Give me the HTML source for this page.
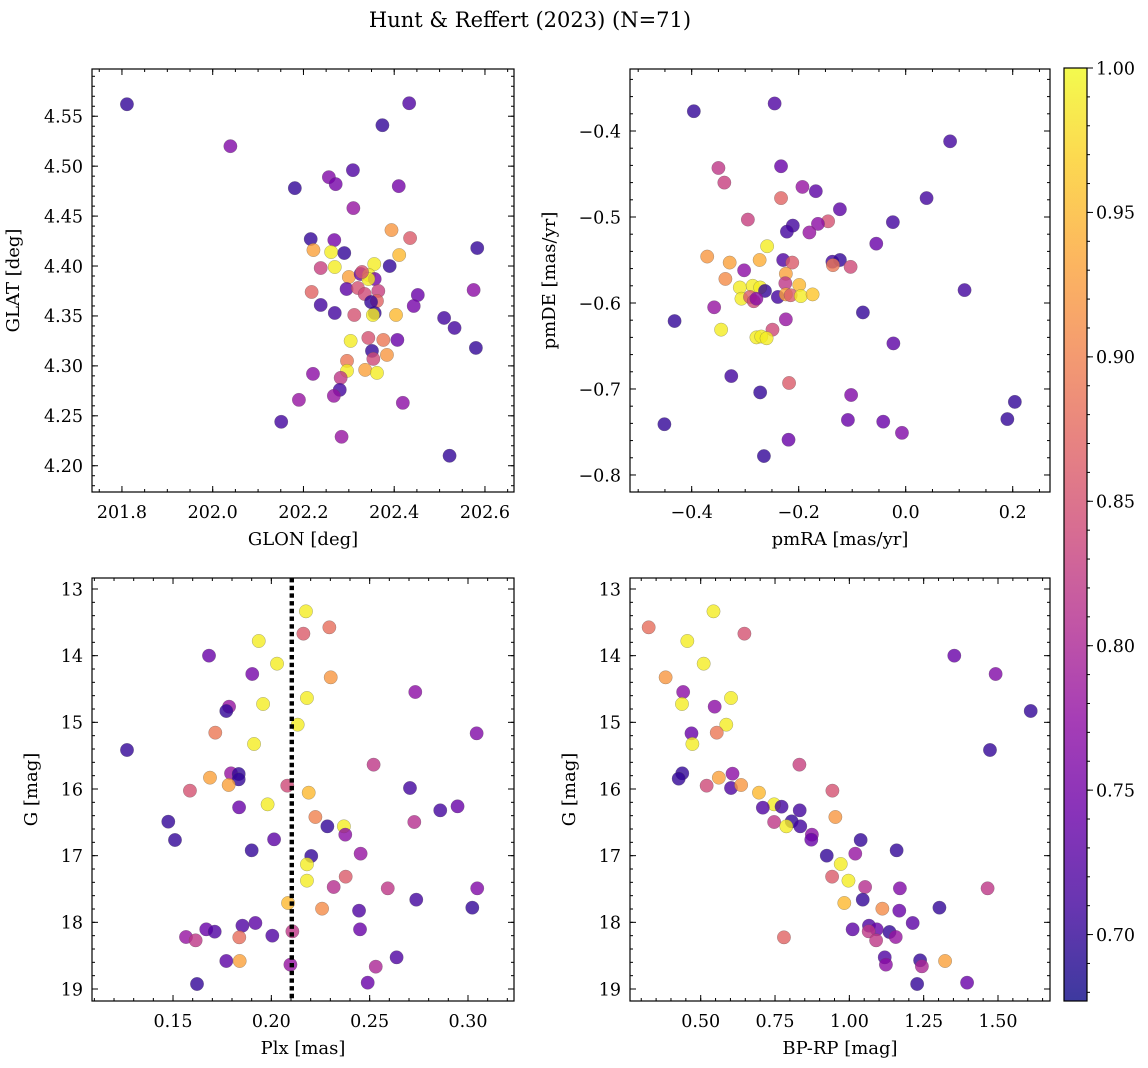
<!DOCTYPE html>
<html><head><meta charset="utf-8"><style>
html,body{margin:0;padding:0;background:#fff;}
svg{display:block;font-family:"DejaVu Serif","Liberation Serif",serif;}
</style></head><body>
<svg id="fig" width="1148" height="1068" viewBox="0 0 1148 1068" xmlns="http://www.w3.org/2000/svg">
<defs>
<linearGradient id="plasma" x1="0" y1="1" x2="0" y2="0">
<stop offset="0" stop-color="#0d0887"/><stop offset="0.1" stop-color="#41049d"/><stop offset="0.2" stop-color="#6a00a8"/><stop offset="0.3" stop-color="#8f0da4"/><stop offset="0.4" stop-color="#b12a90"/><stop offset="0.5" stop-color="#cc4778"/><stop offset="0.6" stop-color="#e16462"/><stop offset="0.7" stop-color="#f2844b"/><stop offset="0.8" stop-color="#fca636"/><stop offset="0.9" stop-color="#fcce25"/><stop offset="1" stop-color="#f0f921"/>
</linearGradient>
</defs>
<text x="530" y="27" font-size="21" text-anchor="middle">Hunt &amp; Reffert (2023) (N=71)</text>
</svg>
<script>
// ---- Panel A: GLON vs GLAT ----
const tlLon=[201.811,202.039,202.181,202.256,202.271,202.309,202.374,202.433,202.410,202.310,202.216,202.268,202.394,202.435,202.583,202.222,202.261,202.290,202.411,202.238,202.269,202.356,202.390,202.300,202.326,202.344,202.357,202.343,202.295,202.320,202.335,202.365,202.362,202.218,202.452,202.443,202.575,202.238,202.269,202.312,202.357,202.353,202.404,202.510,202.533,202.580,202.304,202.343,202.376,202.407,202.351,202.354,202.384,202.296,202.296,202.336,202.362,202.221,202.282,202.280,202.267,202.190,202.419,202.151,202.284,202.522,202.349,202.329];
const tlLat=[4.562,4.520,4.478,4.489,4.482,4.496,4.541,4.563,4.480,4.458,4.427,4.426,4.436,4.428,4.418,4.416,4.414,4.413,4.411,4.398,4.399,4.402,4.400,4.389,4.392,4.391,4.387,4.387,4.377,4.378,4.372,4.375,4.365,4.374,4.371,4.360,4.376,4.361,4.353,4.351,4.353,4.351,4.351,4.348,4.338,4.318,4.325,4.328,4.326,4.326,4.315,4.307,4.311,4.305,4.295,4.296,4.293,4.292,4.288,4.276,4.270,4.266,4.263,4.244,4.229,4.210,4.364,4.394];
const tlC=[0.70,0.76,0.70,0.76,0.75,0.72,0.70,0.72,0.75,0.78,0.70,0.75,0.92,0.86,0.70,0.93,0.99,0.70,0.95,0.83,0.99,0.99,0.70,0.93,0.74,0.99,0.75,0.99,0.73,0.85,0.84,0.83,0.87,0.87,0.74,0.75,0.77,0.71,0.71,0.85,0.70,0.99,0.95,0.71,0.71,0.70,0.99,0.85,0.89,0.74,0.70,0.84,0.92,0.89,0.99,0.93,0.99,0.77,0.82,0.71,0.78,0.78,0.77,0.71,0.78,0.70,0.70,0.85];
// ---- Panel B: pmRA vs pmDE ----
const trRA=[-0.396,-0.245,0.083,-0.350,-0.339,-0.233,-0.193,-0.168,-0.233,0.039,-0.123,-0.295,-0.145,-0.164,-0.024,-0.211,-0.222,-0.180,-0.055,-0.259,-0.371,-0.329,-0.273,-0.229,-0.212,-0.137,-0.123,-0.136,-0.103,-0.302,-0.224,-0.337,-0.225,-0.199,-0.310,-0.286,-0.272,-0.263,-0.239,-0.224,-0.215,-0.196,-0.174,-0.307,-0.291,-0.284,-0.279,0.110,-0.358,-0.432,-0.345,-0.224,-0.249,-0.080,-0.279,-0.270,-0.260,-0.023,-0.326,-0.272,-0.218,-0.102,0.204,-0.451,-0.108,-0.042,0.190,-0.007,-0.219,-0.265];
const trDE=[-0.377,-0.368,-0.412,-0.443,-0.460,-0.441,-0.465,-0.470,-0.478,-0.478,-0.491,-0.503,-0.505,-0.508,-0.506,-0.510,-0.517,-0.518,-0.531,-0.534,-0.546,-0.553,-0.550,-0.550,-0.553,-0.552,-0.550,-0.556,-0.558,-0.562,-0.566,-0.572,-0.577,-0.579,-0.582,-0.580,-0.582,-0.586,-0.593,-0.590,-0.591,-0.592,-0.590,-0.595,-0.593,-0.598,-0.595,-0.585,-0.605,-0.621,-0.631,-0.619,-0.631,-0.611,-0.640,-0.639,-0.641,-0.647,-0.685,-0.704,-0.693,-0.707,-0.715,-0.741,-0.736,-0.738,-0.735,-0.751,-0.759,-0.778];
const trC=[0.70,0.72,0.71,0.82,0.83,0.74,0.78,0.73,0.87,0.71,0.73,0.83,0.85,0.77,0.71,0.71,0.71,0.78,0.74,0.99,0.92,0.93,0.94,0.72,0.86,0.71,0.70,0.89,0.84,0.77,0.93,0.91,0.82,0.95,0.99,0.99,0.99,0.70,0.71,0.93,0.86,0.99,0.96,0.99,0.86,0.84,0.77,0.71,0.78,0.70,0.99,0.78,0.84,0.70,0.99,0.99,0.99,0.73,0.71,0.70,0.86,0.76,0.70,0.70,0.74,0.74,0.70,0.76,0.74,0.70];
// ---- Panel C: Plx vs G ----
const blPlx=[0.2176,0.2163,0.2295,0.1936,0.1683,0.2029,0.1903,0.2302,0.2732,0.2181,0.1958,0.1785,0.1771,0.2134,0.1715,0.3044,0.1912,0.1266,0.2520,0.1795,0.1834,0.1688,0.1834,0.1783,0.2081,0.1586,0.2190,0.2705,0.1981,0.1836,0.2859,0.2947,0.1476,0.2224,0.2727,0.2285,0.2369,0.2376,0.1510,0.2014,0.2454,0.1900,0.2203,0.2181,0.2181,0.2378,0.2317,0.2592,0.3047,0.2737,0.2085,0.2258,0.2446,0.3022,0.1853,0.1919,0.1669,0.1712,0.2107,0.2451,0.2005,0.1837,0.1566,0.1615,0.1771,0.1839,0.2097,0.2637,0.2531,0.1622,0.2490];
const blG=[13.335,13.67,13.575,13.78,14.00,14.12,14.275,14.325,14.545,14.635,14.725,14.765,14.83,15.035,15.155,15.165,15.325,15.415,15.635,15.765,15.775,15.83,15.855,15.94,15.95,16.025,16.055,15.985,16.23,16.275,16.32,16.26,16.49,16.42,16.495,16.56,16.56,16.685,16.765,16.755,16.97,16.92,17.005,17.13,17.375,17.315,17.47,17.49,17.49,17.66,17.71,17.795,17.825,17.78,18.05,18.01,18.105,18.14,18.135,18.105,18.2,18.225,18.22,18.27,18.58,18.58,18.635,18.525,18.665,18.925,18.905];
const blC=[0.99,0.86,0.88,0.99,0.74,0.99,0.75,0.92,0.77,0.99,0.99,0.78,0.70,0.99,0.89,0.76,0.99,0.70,0.82,0.78,0.70,0.93,0.70,0.93,0.84,0.85,0.95,0.71,0.99,0.74,0.71,0.74,0.70,0.90,0.81,0.70,0.99,0.77,0.70,0.73,0.78,0.70,0.70,0.99,0.99,0.86,0.81,0.82,0.76,0.71,0.95,0.91,0.72,0.70,0.72,0.73,0.74,0.72,0.82,0.74,0.72,0.88,0.78,0.82,0.73,0.93,0.78,0.72,0.80,0.70,0.74];
// ---- Panel D: BP-RP vs G ----
const brBP=[0.325,0.543,0.647,0.455,0.510,1.353,1.492,0.382,0.441,0.602,0.437,0.547,1.610,0.586,0.554,0.469,0.472,1.473,0.832,0.438,0.426,0.607,0.561,0.520,0.602,0.636,0.943,0.696,0.747,0.709,0.772,0.833,0.953,0.747,0.806,0.788,0.835,0.874,0.872,1.038,1.159,0.924,1.020,0.971,0.942,0.997,1.053,1.170,1.465,1.045,0.983,1.111,1.168,1.303,1.213,1.066,1.011,1.092,1.135,1.065,1.156,0.780,1.090,1.119,1.123,1.238,1.244,1.322,1.228,1.396];
const brG=[13.575,13.335,13.67,13.78,14.12,14.00,14.275,14.325,14.545,14.635,14.725,14.765,14.83,15.035,15.155,15.165,15.325,15.415,15.635,15.765,15.845,15.77,15.83,15.95,15.985,15.94,16.025,16.055,16.23,16.28,16.265,16.32,16.42,16.495,16.485,16.56,16.56,16.685,16.76,16.765,16.92,17.0,16.97,17.125,17.315,17.375,17.47,17.49,17.49,17.66,17.71,17.795,17.825,17.78,18.01,18.05,18.105,18.105,18.145,18.135,18.22,18.225,18.27,18.525,18.635,18.57,18.66,18.58,18.925,18.905];
const brC=[0.88,0.99,0.85,0.99,0.99,0.74,0.76,0.92,0.77,0.99,0.99,0.77,0.70,0.99,0.89,0.74,0.99,0.70,0.83,0.70,0.70,0.77,0.93,0.84,0.72,0.92,0.85,0.95,0.99,0.72,0.71,0.71,0.92,0.82,0.70,0.99,0.71,0.77,0.74,0.70,0.70,0.70,0.78,0.99,0.86,0.99,0.81,0.76,0.82,0.70,0.95,0.91,0.74,0.70,0.73,0.72,0.73,0.74,0.70,0.82,0.78,0.87,0.82,0.72,0.77,0.70,0.80,0.93,0.70,0.74];
// ---- tick labels ----
const tlXTicks=[201.8,202.0,202.2,202.4,202.6];
const tlYTicks=[4.20,4.25,4.30,4.35,4.40,4.45,4.50,4.55];
const trXTicks=[-0.4,-0.2,0.0,0.2];
const trYTicks=[-0.8,-0.7,-0.6,-0.5,-0.4];
const blXTicks=[0.15,0.20,0.25,0.30];
const gTicks=[13,14,15,16,17,18,19];
const brXTicks=[0.50,0.75,1.00,1.25,1.50];
const cbTicks=[0.70,0.75,0.80,0.85,0.90,0.95,1.00];
const plxLine=0.2104;
const cMin=0.677, cMax=1.0;

const NS="http://www.w3.org/2000/svg";
const svg=document.getElementById('fig');
function mk(tag,attrs,parent){const e=document.createElementNS(NS,tag);for(const k in attrs)e.setAttribute(k,attrs[k]);(parent||svg).appendChild(e);return e;}
const stops=[[13,8,135],[65,4,157],[106,0,168],[143,13,164],[177,42,144],[204,71,120],[225,100,98],[242,132,75],[252,166,54],[252,206,37],[240,249,33]];
function plasma(v){let t=(v-cMin)/(cMax-cMin);t=Math.max(0,Math.min(1,t));const f=t*10,i=Math.min(9,Math.floor(f)),u=f-i;const a=stops[i],b=stops[i+1];return 'rgb('+a.map((x,k)=>Math.round(x+(b[k]-x)*u)).join(',')+')';}
function fmt(v,d){return (v<0?'\u2212':'')+Math.abs(v).toFixed(d);}

const TF=17.5, LF=18;
const panels=[
 {id:'position',x0:92,y0:69,w:422,h:423,xmin:201.734,xmax:202.664,ytop:4.5973,ybot:4.1737,xt:tlXTicks,xd:1,xm:0.05,yt:tlYTicks,yd:2,ym:0.01,xl:'GLON [deg]',yl:'GLAT [deg]',ylx:19,X:tlLon,Y:tlLat,C:tlC},
 {id:'proper-motion',x0:630,y0:69,w:420,h:423,xmin:-0.5153,xmax:0.2697,ytop:-0.3279,ybot:-0.8198,xt:trXTicks,xd:1,xm:0.05,yt:trYTicks,yd:1,ym:0.02,xl:'pmRA [mas/yr]',yl:'pmDE [mas/yr]',ylx:555,X:trRA,Y:trDE,C:trC},
 {id:'parallax-cmd',x0:92,y0:578,w:422,h:423,xmin:0.1088,xmax:0.3234,ytop:12.835,ybot:19.18,xt:blXTicks,xd:2,xm:0.01,yt:gTicks,yd:0,ym:0.2,xl:'Plx [mas]',yl:'G [mag]',ylx:37,X:blPlx,Y:blG,C:blC},
 {id:'color-magnitude',x0:630,y0:578,w:420,h:423,xmin:0.2622,xmax:1.6749,ytop:12.835,ybot:19.18,xt:brXTicks,xd:2,xm:0.05,yt:gTicks,yd:0,ym:0.2,xl:'BP-RP [mag]',yl:'G [mag]',ylx:575,X:brBP,Y:brG,C:brC}
];
function sx(p,v){return p.x0+(v-p.xmin)/(p.xmax-p.xmin)*p.w;}
function sy(p,v){return p.y0+(p.ytop-v)/(p.ytop-p.ybot)*p.h;}

panels.forEach(p=>{
 const g=mk('g',{});
 
 
 const clip=mk('clipPath',{id:'clip-'+p.id},g);
 mk('rect',{x:p.x0,y:p.y0,width:p.w,height:p.h},clip);
 const pts=mk('g',{'clip-path':'url(#clip-'+p.id+')'},g);
 
 
 for(let i=0;i<p.X.length;i++){
  const c=mk('circle',{cx:sx(p,p.X[i]),cy:sy(p,p.Y[i]),r:6.7,fill:plasma(p.C[i]),'fill-opacity':0.8,stroke:'#555','stroke-opacity':0.5,'stroke-width':0.5},pts);
  
  
 }
 if(p.id==='parallax-cmd'){
  const xl=sx(p,plxLine);
  const ln=mk('line',{x1:xl,x2:xl,y1:p.y0,y2:p.y0+p.h,stroke:'#000','stroke-width':4.4,'stroke-dasharray':'4.4,3.3'},pts);
  
  
 }
 const fr=mk('rect',{x:p.x0,y:p.y0,width:p.w,height:p.h,fill:'none',stroke:'#000','stroke-width':1.2},g);
 
 
 const tk=mk('g',{stroke:'#000','stroke-width':1},g);
 
 
 const lo=Math.min(p.xmin,p.xmax),hi=Math.max(p.xmin,p.xmax);
 for(let k=Math.ceil(lo/p.xm-1e-6);k*p.xm<=hi+1e-9;k++){const x=sx(p,k*p.xm);
  mk('line',{x1:x,x2:x,y1:p.y0+p.h,y2:p.y0+p.h-3},tk);mk('line',{x1:x,x2:x,y1:p.y0,y2:p.y0+3},tk);}
 const ylo=Math.min(p.ytop,p.ybot),yhi=Math.max(p.ytop,p.ybot);
 for(let k=Math.ceil(ylo/p.ym-1e-6);k*p.ym<=yhi+1e-9;k++){const y=sy(p,k*p.ym);
  mk('line',{x1:p.x0,x2:p.x0+3,y1:y,y2:y},tk);mk('line',{x1:p.x0+p.w,x2:p.x0+p.w-3,y1:y,y2:y},tk);}
 p.xt.forEach(v=>{const x=sx(p,v);
  mk('line',{x1:x,x2:x,y1:p.y0+p.h,y2:p.y0+p.h-6},tk);mk('line',{x1:x,x2:x,y1:p.y0,y2:p.y0+6},tk);
  const t=mk('text',{x:x,y:p.y0+p.h+26,'font-size':TF,'text-anchor':'middle'},g);t.textContent=fmt(v,p.xd);
  
  });
 p.yt.forEach(v=>{const y=sy(p,v);
  mk('line',{x1:p.x0,x2:p.x0+6,y1:y,y2:y},tk);mk('line',{x1:p.x0+p.w,x2:p.x0+p.w-6,y1:y,y2:y},tk);
  const t=mk('text',{x:p.x0-9,y:y+6.3,'font-size':TF,'text-anchor':'end'},g);t.textContent=fmt(v,p.yd);
  
  });
 const xt=mk('text',{x:p.x0+p.w/2,y:p.y0+p.h+53,'font-size':LF,'text-anchor':'middle'},g);xt.textContent=p.xl;
 
 
 const cy=p.y0+p.h/2;
 const yt=mk('text',{x:p.ylx,y:cy,'font-size':LF,'text-anchor':'middle',transform:'rotate(-90 '+p.ylx+' '+cy+')'},g);yt.textContent=p.yl;
 
 
});

// colorbar
const cb={x:1064,y:68,w:23,h:933};
const cg=mk('g',{});


mk('rect',{x:cb.x,y:cb.y,width:cb.w,height:cb.h,fill:'url(#plasma)','fill-opacity':0.8},cg);
mk('rect',{x:cb.x,y:cb.y,width:cb.w,height:cb.h,fill:'none',stroke:'#000','stroke-width':1.2},cg);
function cy(v){return cb.y+(cMax-v)/(cMax-cMin)*cb.h;}
for(let k=Math.ceil(cMin*100);k<=100;k++){const y=cy(k/100);mk('line',{x1:cb.x+cb.w,x2:cb.x+cb.w+3,y1:y,y2:y,stroke:'#000'},cg);}
cbTicks.forEach(v=>{const y=cy(v);mk('line',{x1:cb.x+cb.w,x2:cb.x+cb.w+6,y1:y,y2:y,stroke:'#000'},cg);
 const t=mk('text',{x:cb.x+cb.w+9,y:y+6.3,'font-size':TF},cg);t.textContent=v.toFixed(2);
 
 });
</script>
</body></html>
